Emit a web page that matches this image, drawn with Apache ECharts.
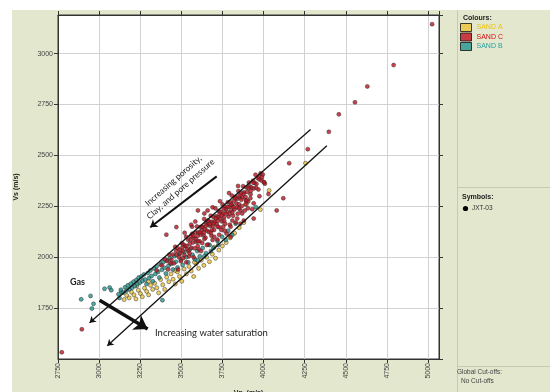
<!DOCTYPE html>
<html>
<head>
<meta charset="utf-8">
<script src="https://cdn.jsdelivr.net/npm/echarts@6/dist/echarts.min.js"></script>
<style>
  html, body { margin: 0; padding: 0; background: #fff; }
  #wrap { position: relative; width: 550px; height: 392px; overflow: hidden; }
  #panel { position: absolute; left: 12px; top: 10px; right: 0; bottom: 0; background: #e2e7cd; }
  #main { position: absolute; left: 0; top: 0; width: 550px; height: 392px; }
</style>
</head>
<body>
<div id="wrap">
  <div id="panel"></div>
  <div id="main"></div>
</div>
<script>
// Vp / Vs pairs (m/s)
const sandA = [
  [3152, 1792], [3168, 1812], [3183, 1800], [3197, 1828], [3212, 1815], [3224, 1795],
  [3238, 1838], [3251, 1822], [3263, 1806], [3276, 1848], [3289, 1832], [3301, 1815],
  [3313, 1862], [3326, 1842], [3338, 1872], [3351, 1850], [3362, 1825], [3374, 1890],
  [3387, 1865], [3399, 1842], [3411, 1902], [3424, 1880], [3437, 1918], [3450, 1892],
  [3463, 1868], [3476, 1928], [3489, 1905], [3503, 1882], [3517, 1942], [3531, 1918],
  [3546, 1955], [3560, 1932], [3575, 1905], [3590, 1968], [3605, 1945], [3621, 1985],
  [3637, 1960], [3654, 2000], [3671, 1978], [3689, 2015], [3708, 1995], [3728, 2035],
  [3750, 2055], [3773, 2072], [3797, 2095], [3824, 2118], [3852, 2145], [3880, 2170],
  [3896, 2260], [3981, 2234], [4034, 2328], [4255, 2462],
  [3230, 1860], [3300, 1880], [3460, 1935], [3580, 1975], [3700, 2050]
];
const sandB = [
  [2891, 1793], [2948, 1810], [2956, 1748], [2966, 1771], [3033, 1845], [3064, 1851],
  [3074, 1838], [3124, 1800], [3135, 1830],
  [3118, 1818], [3132, 1840], [3147, 1826], [3158, 1852], [3166, 1835], [3175, 1862],
  [3184, 1843], [3193, 1870], [3201, 1850], [3209, 1880], [3217, 1858], [3226, 1888],
  [3233, 1868], [3241, 1900], [3249, 1876], [3257, 1905], [3264, 1884], [3272, 1915],
  [3280, 1890], [3288, 1868], [3296, 1922], [3304, 1898], [3312, 1935], [3319, 1908],
  [3327, 1882], [3335, 1945], [3342, 1918], [3350, 1955], [3358, 1928], [3366, 1900],
  [3374, 1965], [3382, 1938], [3390, 1975], [3398, 1948], [3406, 1920], [3414, 1985],
  [3422, 1958], [3431, 1995], [3440, 1968], [3449, 1940], [3458, 2005], [3467, 1978],
  [3477, 1950], [3487, 2015], [3497, 1988], [3508, 1962], [3519, 2025], [3530, 2000],
  [3542, 1975], [3555, 2040], [3568, 2012], [3582, 1990], [3597, 2030], [3612, 2005],
  [3630, 2045], [3650, 2020], [3672, 2060], [3695, 2045], [3720, 2080], [3748, 2100],
  [3785, 2130], [3830, 2165], [3953, 2246], [3385, 1789],
  [3640, 2005], [3680, 2030], [3725, 2060], [3770, 2085], [3810, 2110], [3600, 1985]
];
const sandC = [
  [3412, 1982], [3427, 2012], [3433, 1970], [3448, 2013], [3455, 1970], [3463, 2051],
  [3471, 2012], [3478, 2044], [3486, 2000], [3491, 2036], [3497, 1980], [3503, 2069],
  [3509, 2030], [3514, 2062], [3519, 2010], [3524, 2054], [3529, 2100], [3535, 2039],
  [3541, 2086], [3546, 2004], [3551, 2066], [3556, 2086], [3561, 2047], [3566, 2115],
  [3571, 2072], [3576, 2094], [3581, 2044], [3586, 2121], [3591, 2076], [3595, 2151],
  [3599, 2104], [3603, 2123], [3607, 2038], [3611, 2078], [3615, 2148], [3619, 2110],
  [3623, 2131], [3627, 2070], [3631, 2149], [3635, 2109], [3639, 2188], [3643, 2137],
  [3647, 2096], [3651, 2170], [3655, 2131], [3659, 2159], [3663, 2062], [3667, 2124],
  [3671, 2175], [3675, 2154], [3679, 2204], [3683, 2106], [3687, 2174], [3691, 2152],
  [3695, 2198], [3699, 2134], [3703, 2175], [3707, 2240], [3711, 2201], [3715, 2162],
  [3719, 2087], [3723, 2196], [3727, 2227], [3731, 2147], [3735, 2190], [3739, 2223],
  [3743, 2134], [3747, 2176], [3751, 2259], [3755, 2216], [3759, 2197], [3763, 2248],
  [3767, 2165], [3771, 2237], [3775, 2116], [3779, 2224], [3783, 2270], [3787, 2200],
  [3791, 2247], [3795, 2160], [3799, 2269], [3803, 2231], [3807, 2303], [3811, 2253],
  [3815, 2204], [3819, 2277], [3823, 2235], [3827, 2297], [3831, 2171], [3835, 2264],
  [3839, 2286], [3843, 2214], [3847, 2325], [3851, 2260], [3855, 2293], [3859, 2165],
  [3863, 2316], [3867, 2251], [3871, 2294], [3876, 2349], [3881, 2319], [3886, 2229],
  [3891, 2296], [3896, 2343], [3901, 2321], [3906, 2274], [3911, 2367], [3916, 2348],
  [3921, 2309], [3926, 2343], [3931, 2236], [3936, 2376], [3941, 2338], [3946, 2365],
  [3951, 2405], [3957, 2360], [3963, 2389], [3969, 2333], [3975, 2382], [3982, 2412],
  [3988, 2377], [3995, 2406], [4003, 2367],
  [3440, 1988], [3468, 2030], [3494, 2020], [3506, 2048], [3532, 2055], [3544, 2031],
  [3558, 2103], [3573, 2106], [3588, 2089], [3601, 2078], [3613, 2122], [3625, 2150],
  [3637, 2121], [3649, 2155], [3661, 2180], [3673, 2164], [3685, 2133], [3697, 2166],
  [3709, 2192], [3721, 2178], [3733, 2212], [3745, 2205], [3757, 2238], [3769, 2214],
  [3781, 2248], [3793, 2214], [3805, 2259], [3817, 2246], [3829, 2290], [3841, 2245],
  [3853, 2303], [3865, 2282], [3878, 2311], [3893, 2279], [3908, 2340], [3923, 2326],
  [3938, 2366], [3955, 2341], [3972, 2397], [3990, 2393],
  [3520, 2120], [3565, 2150], [3585, 2175], [3640, 2215], [3690, 2245], [3735, 2275],
  [3790, 2315], [3845, 2350], [3660, 2230], [3560, 2160],
  [3480, 1940], [3530, 1975], [3575, 2000], [3620, 2030], [3655, 2060], [3690, 2085],
  [3730, 2110], [3765, 2130], [3800, 2150], [3840, 2190], [3870, 2215], [3905, 2240],
  [3940, 2265], [3975, 2300], [4030, 2310], [3700, 2100], [3755, 2150], [3810, 2180],
  [3860, 2230], [3920, 2290], [3510, 1995], [3550, 2020], [3600, 2055], [3640, 2090],
  [3680, 2120], [3720, 2150], [3760, 2180], [3810, 2220], [3850, 2240], [3890, 2260],
  [3380, 1960], [3350, 1935], [3420, 1940], [3400, 1990],
  [3409, 2111], [3470, 2148], [3601, 2230], [4008, 2361], [4003, 2369],
  [4120, 2290], [4080, 2230], [3940, 2190], [3880, 2180], [3800, 2100], [3896, 2279],
  [4156, 2462], [4269, 2531], [4397, 2616], [4458, 2702], [4556, 2761], [4631, 2839],
  [4791, 2944], [5025, 3145], [2773, 1533], [2895, 1646]
];

// annotation arrows, in Vp / Vs units: [start, end(arrow head)]
const trendUpper = [[4286, 2627], [2942, 1678]];
const trendLower = [[4385, 2548], [3050, 1565]];
const waterArrow = [[3003, 1789], [3295, 1647]];
const porosityArrow = [[3715, 2397], [3311, 2147]];

const xTicks = { min: 2750, max: 5067, step: 250 };
const yTicks = { min: 1500, max: 3190, step: 250 };

const font = 'Liberation Sans';
const mark = (color) => ({ color: color, borderColor: '#2a2a2a', borderWidth: 0.6 });
const hideOdd = (v) => (v % 250 === 0 ? String(v) : '');

const chart = echarts.init(document.getElementById('main'), null, { renderer: 'canvas' });

const axisCommon = {
  type: 'value',
  interval: 250,
  axisLine: { show: true, lineStyle: { color: '#333', width: 1 } },
  axisTick: { show: true, length: 4, lineStyle: { color: '#333' } }
};

chart.setOption({
  backgroundColor: 'transparent',
  animation: false,
  grid: {
    left: 58, top: 15, right: 111, bottom: 33, outerBoundsMode: 'none', containLabel: false,
    show: true, backgroundColor: '#fff', borderColor: '#333', borderWidth: 1
  },
  legend: {
    orient: 'vertical', left: 460, top: 23, padding: 0, itemGap: 0.5,
    itemWidth: 11, itemHeight: 8, icon: 'rect',
    itemStyle: { borderColor: '#111', borderWidth: 1 },
    textStyle: { fontFamily: font, fontSize: 7 },
    data: [
      { name: 'SAND A', textStyle: { color: '#f2c200' } },
      { name: 'SAND C', textStyle: { color: '#d01010' } },
      { name: 'SAND B', textStyle: { color: '#27a0a0' } }
    ]
  },
  xAxis: [
    Object.assign({}, axisCommon, {
      min: xTicks.min, max: xTicks.max, position: 'bottom',
      name: 'Vp  (m/s)', nameLocation: 'middle', nameGap: 31,
      nameTextStyle: { fontFamily: font, fontSize: 7, fontWeight: 'bold', color: '#222' },
      axisLabel: { rotate: 90, fontFamily: font, fontSize: 7, color: '#444', margin: 4, formatter: hideOdd, showMaxLabel: false },
      splitLine: { show: true, lineStyle: { color: '#d2d2d2', width: 1 } }
    }),
    Object.assign({}, axisCommon, {
      min: xTicks.min, max: xTicks.max, position: 'top',
      axisLabel: { show: false }, splitLine: { show: false }
    })
  ],
  yAxis: [
    Object.assign({}, axisCommon, {
      min: yTicks.min, max: yTicks.max, position: 'left',
      name: 'Vs (m/s)', nameLocation: 'middle', nameGap: 38, nameRotate: 90,
      nameTextStyle: { fontFamily: font, fontSize: 7, fontWeight: 'bold', color: '#222' },
      axisLabel: { fontFamily: font, fontSize: 7, color: '#444', margin: 5, formatter: hideOdd, showMinLabel: false, showMaxLabel: false },
      splitLine: { show: true, lineStyle: { color: '#d2d2d2', width: 1 } }
    }),
    Object.assign({}, axisCommon, {
      min: yTicks.min, max: yTicks.max, position: 'right',
      axisLabel: { show: false }, splitLine: { show: false }
    })
  ],
  series: [
    { name: 'SAND A', type: 'scatter', symbolSize: 4, itemStyle: mark('#ecc437'), data: sandA },
    { name: 'SAND B', type: 'scatter', symbolSize: 4, itemStyle: mark('#23948f'), data: sandB },
    { name: 'SAND C', type: 'scatter', symbolSize: 4, itemStyle: mark('#bf1420'), data: sandC },
    {
      type: 'lines', coordinateSystem: 'cartesian2d', silent: true, z: 5,
      symbol: ['none', 'arrow'], symbolSize: 6,
      lineStyle: { color: '#111', width: 1.3, opacity: 1 },
      data: [{ coords: trendUpper }, { coords: trendLower }]
    },
    {
      type: 'lines', coordinateSystem: 'cartesian2d', silent: true, z: 5,
      symbol: ['none', 'arrow'], symbolSize: 7,
      lineStyle: { color: '#111', width: 2, opacity: 1 },
      data: [{ coords: porosityArrow }]
    },
    {
      type: 'lines', coordinateSystem: 'cartesian2d', silent: true, z: 5,
      symbol: ['none', 'arrow'], symbolSize: 13,
      lineStyle: { color: '#111', width: 3.5, opacity: 1 },
      data: [{ coords: waterArrow }]
    }
  ],
  graphic: [
    { type: 'line', shape: { x1: 457.5, y1: 10, x2: 457.5, y2: 392 }, style: { stroke: '#c6cbb0', lineWidth: 1 } },
    { type: 'line', shape: { x1: 457, y1: 187.5, x2: 550, y2: 187.5 }, style: { stroke: '#c6cbb0', lineWidth: 1 } },
    { type: 'line', shape: { x1: 457, y1: 366.5, x2: 550, y2: 366.5 }, style: { stroke: '#c6cbb0', lineWidth: 1 } },
    { type: 'text', x: 463, y: 15, style: { text: 'Colours:', fontFamily: font, fontSize: 7, fontWeight: 'bold', fill: '#222' } },
    { type: 'text', x: 462, y: 194, style: { text: 'Symbols:', fontFamily: font, fontSize: 7, fontWeight: 'bold', fill: '#222' } },
    { type: 'circle', shape: { cx: 465.5, cy: 208.5, r: 2.6 }, style: { fill: '#000' } },
    { type: 'text', x: 472, y: 205, style: { text: 'JXT-03', fontFamily: font, fontSize: 6.5, fill: '#333' } },
    { type: 'text', x: 457, y: 369, style: { text: 'Global Cut-offs:', fontFamily: font, fontSize: 6.5, fill: '#444' } },
    { type: 'text', x: 461, y: 378, style: { text: 'No Cut-offs', fontFamily: font, fontSize: 6.5, fill: '#444' } },
    { type: 'text', x: 70, y: 278, z: 10, style: { text: 'Gas', fontFamily: 'Lato', fontSize: 9, fontWeight: 'bold', fill: '#222' } },
    { type: 'text', x: 155, y: 328, z: 10, style: { text: 'Increasing water saturation', fontFamily: 'Lato', fontSize: 9.5, fill: '#222' } },
    {
      type: 'text', x: 177, y: 185, rotation: 0.72, z: 10,
      style: { text: 'Increasing porosity,\nClay, and pore pressure', fontFamily: 'Lato', fontSize: 8.5, lineHeight: 11, align: 'center', verticalAlign: 'middle', fill: '#222' }
    }
  ]
});
</script>
</body>
</html>
